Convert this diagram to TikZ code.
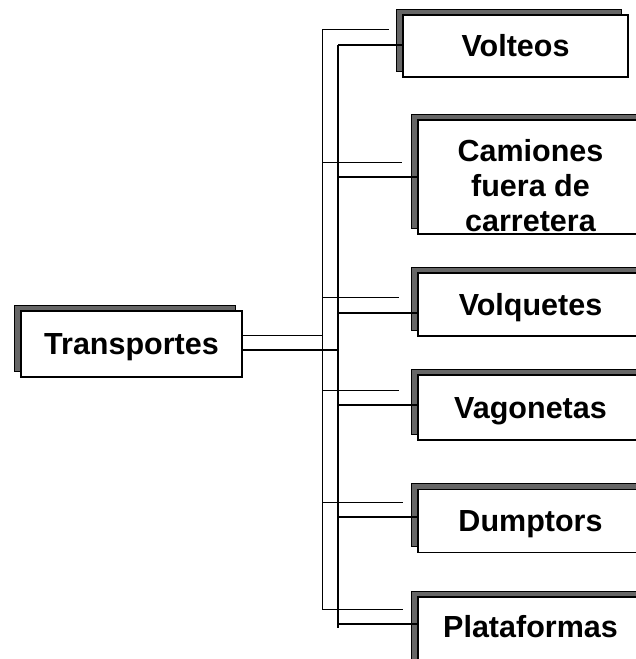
\documentclass[tikz,border=0pt]{standalone}
\usepackage{fontspec}
\setmainfont{Liberation Sans}
\usetikzlibrary{shadows}
\begin{document}
\begin{tikzpicture}[x=1pt,y=-1pt,
  boxbase/.style={draw=black, line width=1.3pt, fill=white, inner sep=0pt,
    font=\fontsize{30.5}{35}\selectfont\bfseries,
    copy shadow={shadow xshift=-7pt, shadow yshift=6pt, fill=black!60, draw=black, line width=0.8pt}},
  onebox/.style={boxbase, text height=21.8pt, text depth=0pt},
  thinline/.style={line width=0.8pt},
  thickline/.style={line width=1.6pt},
  lbl/.style={inner sep=0pt, align=center, font=\fontsize{30.5}{35}\selectfont\bfseries}]
\useasboundingbox (0,0) rectangle (636,659);
\clip (0,0) rectangle (636,659);

% boxes (centres)
\node[onebox, minimum width=221pt, minimum height=66pt] (tr) at (131.5,344) {Transportes};
\node[onebox, minimum width=225pt, minimum height=62pt] (vol) at (515.5,46) {Volteos};
\node[boxbase, minimum width=225pt, minimum height=114pt] (cam) at (530.5,177) {};
\node[lbl, anchor=north] (camt) at (530.5,139) {Camiones\\fuera de\\carretera};
\node[onebox, minimum width=225pt, minimum height=63pt] (vq) at (530.5,304.5) {Volquetes};
\node[onebox, minimum width=225pt, minimum height=65pt] (vg) at (530.5,407.5) {Vagonetas};
\node[onebox, minimum width=225pt, minimum height=63pt] (du) at (530.5,521) {Dumptors};
\node[onebox, text depth=8pt, minimum width=225pt, minimum height=68pt] (pl) at (530.5,631) {Plataformas};

% trunk coordinates
\coordinate (a0) at (322,29);
\coordinate (a1) at (322,162);
\coordinate (a2) at (322,297);
\coordinate (a3) at (322,390);
\coordinate (a4) at (322,502);
\coordinate (a5) at (322,609);
\coordinate (at) at (322,335);
\coordinate (b0) at (338,45);
\coordinate (b1) at (338,177);
\coordinate (b2) at (338,313);
\coordinate (b3) at (338,405);
\coordinate (b4) at (338,517);
\coordinate (b5) at (338,624);
\coordinate (bt) at (338,350);
\coordinate (bend) at (338,628);
% free ends of the thin branches
\coordinate (e0) at (389,29);
\coordinate (e1) at (402,162);
\coordinate (e2) at (399,297);
\coordinate (e3) at (399,390);
\coordinate (e4) at (403,502);
\coordinate (e5) at (403,609);

% thin system
\draw[thinline] (tr.east |- at) -- (at);
\draw[thinline] (a0) -- (a5);
\draw[thinline] (a0) -- (e0);
\draw[thinline] (a1) -- (e1);
\draw[thinline] (a2) -- (e2);
\draw[thinline] (a3) -- (e3);
\draw[thinline] (a4) -- (e4);
\draw[thinline] (a5) -- (e5);

% thick system
\draw[thickline] (tr.east |- bt) -- (bt);
\draw[thickline] (b0) -- (bend);
\draw[thickline] (b0) -- (vol.west |- b0);
\draw[thickline] (b1) -- (cam.west |- b1);
\draw[thickline] (b2) -- (vq.west |- b2);
\draw[thickline] (b3) -- (vg.west |- b3);
\draw[thickline] (b4) -- (du.west |- b4);
\draw[thickline] (b5) -- (pl.west |- b5);
\end{tikzpicture}
\end{document}
